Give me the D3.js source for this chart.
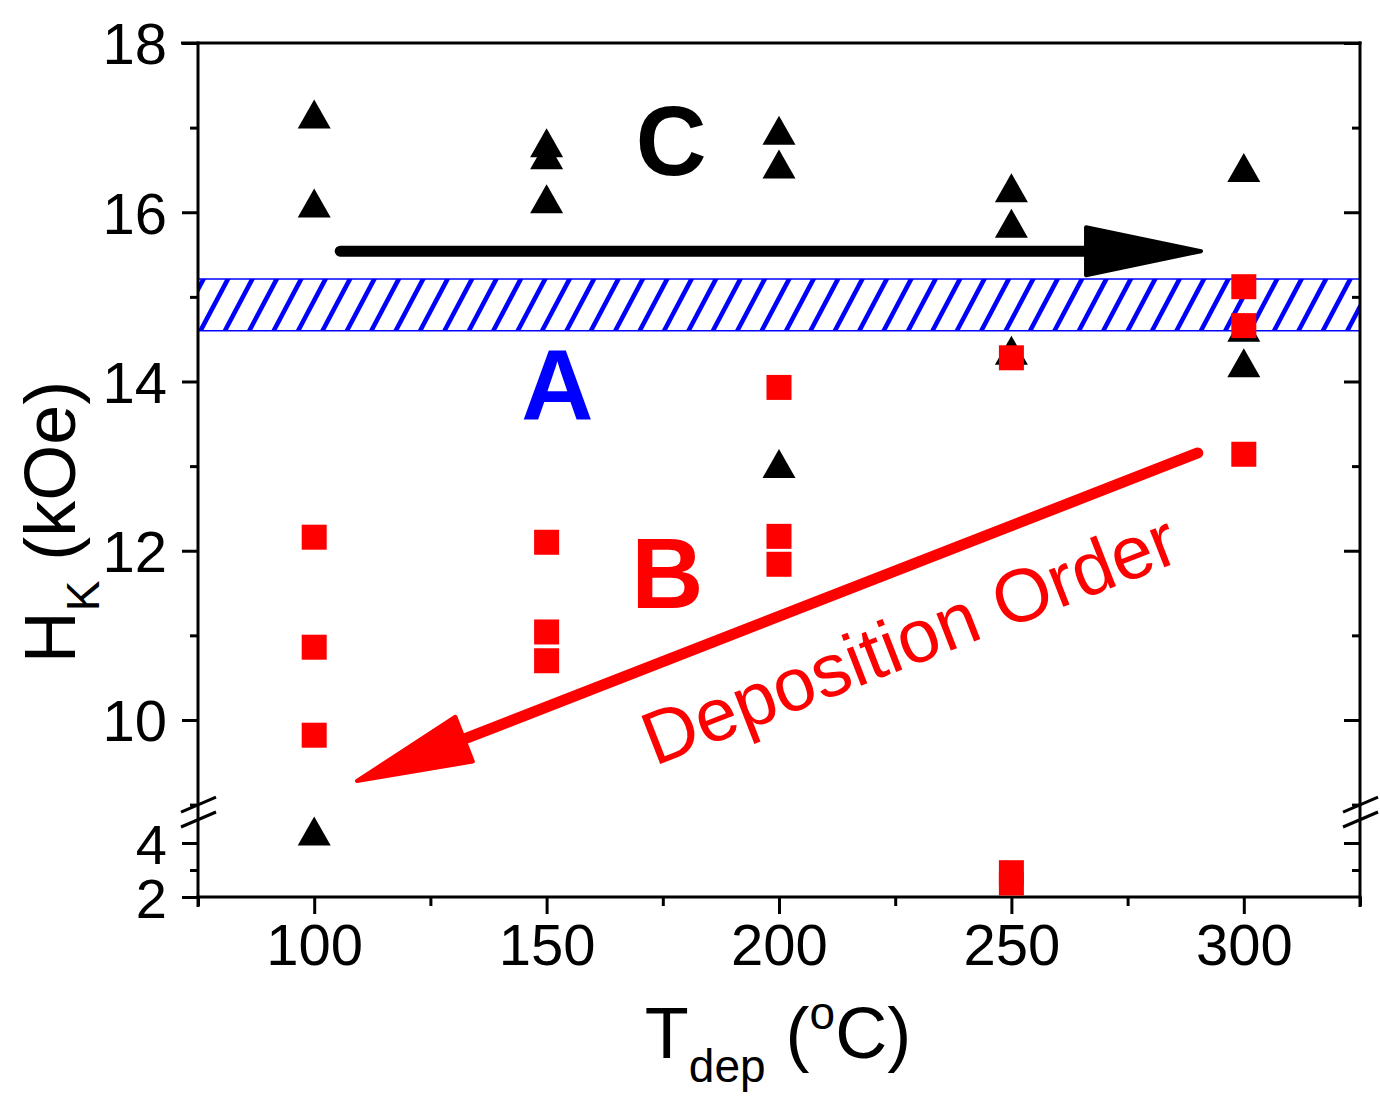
<!DOCTYPE html>
<html><head><meta charset="utf-8">
<script src="https://cdn.jsdelivr.net/npm/d3@7"></script>
<style>body{margin:0;background:#fff}svg{display:block}</style>
</head><body>
<script>
// ---- data ----
const temps = [100, 150, 200, 250, 300];
const xTickLabels = ["100", "150", "200", "250", "300"];
const yTickUpper = [10, 12, 14, 16, 18];
const yTickLower = [2, 4];
// black triangles (Hk, kOe) per deposition temperature
const triangles100 = [17.16, 16.11, 4.44];
const triangles150 = [16.82, 16.68, 16.16];
const triangles200 = [16.97, 16.57, 13.03];
const triangles250 = [16.29, 15.87, 14.37];
const triangles300 = [16.53, 14.64, 14.22];
// red squares
const squares100 = [12.16, 10.86, 9.82];
const squares150 = [12.10, 11.04, 10.70];
const squares200 = [13.93, 12.17, 11.84];
const squares250 = [14.28, 2.90, 2.46];
const squares300 = [15.12, 14.66, 13.14];
// region A band
const bandRange = [14.60, 15.21];

const W = 1380, H = 1097;
const L = 198, R = 1360, T = 43, B = 897;
const x = d3.scaleLinear([75, 325], [L, R]);
const yUp = d3.scaleLinear([9, 18], [804.6, T]);
const yLo = d3.scaleLinear([2, 5], [B, 816]);
const y = v => v >= 7 ? yUp(v) : yLo(v);

const svg = d3.select("body").append("svg").attr("width", W).attr("height", H);
const FONT = "Arial, 'Liberation Sans', sans-serif";

// ---- hatched band ----
const yb0 = y(bandRange[1]), yb1 = y(bandRange[0]);
svg.append("clipPath").attr("id", "bandclip").append("rect")
  .attr("x", L).attr("y", yb0).attr("width", R - L).attr("height", yb1 - yb0);
const hatch = svg.append("g").attr("clip-path", "url(#bandclip)");
const step = 24.4, lean = (yb1 - yb0) * 0.55;
for (let k = -3; L + k * step < R + 10; k++) {
  const xb = L + 2 + k * step;
  hatch.append("line").attr("x1", xb).attr("y1", yb1 + 1).attr("x2", xb + lean).attr("y2", yb0 - 1)
    .attr("stroke", "#0000ff").attr("stroke-width", 4.6);
}
[yb0, yb1].forEach(v => svg.append("line").attr("x1", L).attr("x2", R).attr("y1", v).attr("y2", v)
  .attr("stroke", "#0000ff").attr("stroke-width", 1.5));

// ---- axes ----
function styleAxis(g) {
  g.selectAll("path.domain").remove();
  g.selectAll(".tick line").attr("stroke", "#000").attr("stroke-width", 3);
  g.selectAll(".tick text").attr("font-family", FONT).attr("font-size", 58).attr("fill", "#000");
}
const fmt = d3.format("d");
// bottom
svg.append("g").attr("transform", `translate(0,${B})`)
  .call(d3.axisBottom(x).tickValues(temps).tickSize(17).tickPadding(10).tickFormat((d, i) => xTickLabels[i]))
  .call(styleAxis).call(g => g.selectAll(".tick text").attr("dy", "0.71em"));
svg.append("g").attr("transform", `translate(0,${B})`)
  .call(d3.axisBottom(x).tickValues([75, 125, 175, 225, 275, 325]).tickSize(9).tickFormat(""))
  .call(styleAxis);
// left
svg.append("g").attr("transform", `translate(${L},0)`)
  .call(d3.axisLeft(yUp).tickValues(yTickUpper).tickSize(16).tickPadding(15).tickFormat(fmt))
  .call(styleAxis).call(g => g.selectAll(".tick text").attr("dy", "0.36em"));
svg.append("g").attr("transform", `translate(${L},0)`)
  .call(d3.axisLeft(yLo).tickValues(yTickLower).tickSize(16).tickPadding(15).tickFormat(fmt))
  .call(styleAxis).call(g => g.selectAll(".tick text").attr("dy", "0.36em").attr("font-size", 56));
svg.append("g").attr("transform", `translate(${L},0)`)
  .call(d3.axisLeft(yUp).tickValues([9, 11, 13, 15, 17]).tickSize(8).tickFormat("")).call(styleAxis);
svg.append("g").attr("transform", `translate(${L},0)`)
  .call(d3.axisLeft(yLo).tickValues([3]).tickSize(8).tickFormat("")).call(styleAxis);
// right (inward)
svg.append("g").attr("transform", `translate(${R},0)`)
  .call(d3.axisLeft(yUp).tickValues(yTickUpper).tickSize(16).tickFormat("")).call(styleAxis);
svg.append("g").attr("transform", `translate(${R},0)`)
  .call(d3.axisLeft(yLo).tickValues([4]).tickSize(16).tickFormat("")).call(styleAxis);
svg.append("g").attr("transform", `translate(${R},0)`)
  .call(d3.axisLeft(yUp).tickValues([9, 11, 13, 15, 17]).tickSize(8).tickFormat("")).call(styleAxis);
svg.append("g").attr("transform", `translate(${R},0)`)
  .call(d3.axisLeft(yLo).tickValues([3]).tickSize(8).tickFormat("")).call(styleAxis);

// frame
const frame = svg.append("g").attr("stroke", "#000").attr("stroke-width", 3);
frame.append("line").attr("x1", L).attr("x2", L).attr("y1", T - 1.5).attr("y2", B + 10);
frame.append("line").attr("x1", R).attr("x2", R).attr("y1", T - 1.5).attr("y2", B + 10);
frame.append("line").attr("x1", L - 17).attr("x2", R + 1.5).attr("y1", T).attr("y2", T);
frame.append("line").attr("x1", L - 1.5).attr("x2", R + 1.5).attr("y1", B).attr("y2", B);
// axis break marks
const breakYs = [yUp(9), yLo(5) + 3.5];
[L, R].forEach(cx => breakYs.forEach(by => {
  frame.append("line").attr("x1", cx - 17).attr("y1", by + 7.5).attr("x2", cx + 18).attr("y2", by - 7.5);
}));

// ---- markers ----
const triSeries = [triangles100, triangles150, triangles200, triangles250, triangles300];
const sqSeries = [squares100, squares150, squares200, squares250, squares300];
const triPts = triSeries.flatMap((arr, i) => arr.map(v => ({ t: temps[i], v })));
const sqPts = sqSeries.flatMap((arr, i) => arr.map(v => ({ t: temps[i], v })));
const plot = svg.append("g");
plot.selectAll("path.tri").data(triPts).enter().append("path").attr("class", "tri")
  .attr("d", "M0,-14.5L16.5,14.5L-16.5,14.5Z").attr("fill", "#000")
  .attr("transform", d => `translate(${x(d.t)},${y(d.v)})`);
svg.append("clipPath").attr("id", "plotclip").append("rect")
  .attr("x", L).attr("y", T).attr("width", R - L).attr("height", B - T - 1.5);
plot.append("g").attr("clip-path", "url(#plotclip)")
  .selectAll("rect").data(sqPts).enter().append("rect")
  .attr("x", d => x(d.t) - 12.5).attr("y", d => y(d.v) - 12.5)
  .attr("width", 25).attr("height", 25).attr("fill", "#ff0000");

// ---- arrows ----
function arrow(p0, p1, color, w) {
  const [x0, y0] = [x(p0[0]), y(p0[1])], [x1, y1] = [x(p1[0]), y(p1[1])];
  const dx = x1 - x0, dy = y1 - y0, len = Math.hypot(dx, dy);
  const ux = dx / len, uy = dy / len, nx = -uy, ny = ux;
  const hl = 115, hw = 24;
  const bx = x1 - ux * hl, by = y1 - uy * hl;
  svg.append("line").attr("x1", x0).attr("y1", y0).attr("x2", bx + ux * 5).attr("y2", by + uy * 5)
    .attr("stroke", color).attr("stroke-width", w).attr("stroke-linecap", "round");
  svg.append("path")
    .attr("d", `M${x1},${y1}L${bx + nx * hw},${by + ny * hw}L${bx - nx * hw},${by - ny * hw}Z`)
    .attr("fill", color).attr("stroke", color).attr("stroke-width", 4).attr("stroke-linejoin", "round");
}
arrow([105.6, 15.54], [290.8, 15.54], "#000", 11);
arrow([290.1, 13.155], [109.2, 9.28], "#ff0000", 11);

// ---- annotations ----
function label(t, v, txt, color, size) {
  svg.append("text").attr("x", x(t)).attr("y", y(v)).attr("text-anchor", "middle")
    .attr("font-family", FONT).attr("font-weight", "bold").attr("font-size", size)
    .attr("fill", color).text(txt);
}
label(176.8, 16.44, "C", "#000", 98);
label(152.3, 13.545, "A", "#0000ff", 100);
label(176.0, 11.32, "B", "#ff0000", 100);
const angle = Math.atan2(y(9.28) - y(13.155), x(109.2) - x(290.1)) * 180 / Math.PI - 180;
svg.append("text").attr("transform", `translate(${x(228.0)},${y(10.96)}) rotate(${angle})`)
  .attr("text-anchor", "middle").attr("dy", "0.35em")
  .attr("font-family", FONT).attr("font-size", 75).attr("fill", "#ff0000").text("Deposition Order");

// ---- axis titles ----
const xt = svg.append("text").attr("x", 778).attr("y", 1058).attr("text-anchor", "middle")
  .attr("font-family", FONT).attr("font-size", 72).attr("fill", "#000");
xt.append("tspan").text("T");
xt.append("tspan").attr("font-size", 46).attr("dy", 24).text("dep");
xt.append("tspan").attr("dy", -24).text(" (");
xt.append("tspan").attr("font-size", 46).attr("dy", -29).text("o");
xt.append("tspan").attr("dy", 29).text("C)");

const yt = svg.append("text").attr("transform", `translate(75,522) rotate(-90)`).attr("text-anchor", "middle")
  .attr("font-family", FONT).attr("font-size", 72).attr("fill", "#000");
yt.append("tspan").text("H");
yt.append("tspan").attr("font-size", 46).attr("dy", 24).text("K");
yt.append("tspan").attr("dy", -24).text(" (kOe)");
</script>
</body></html>
